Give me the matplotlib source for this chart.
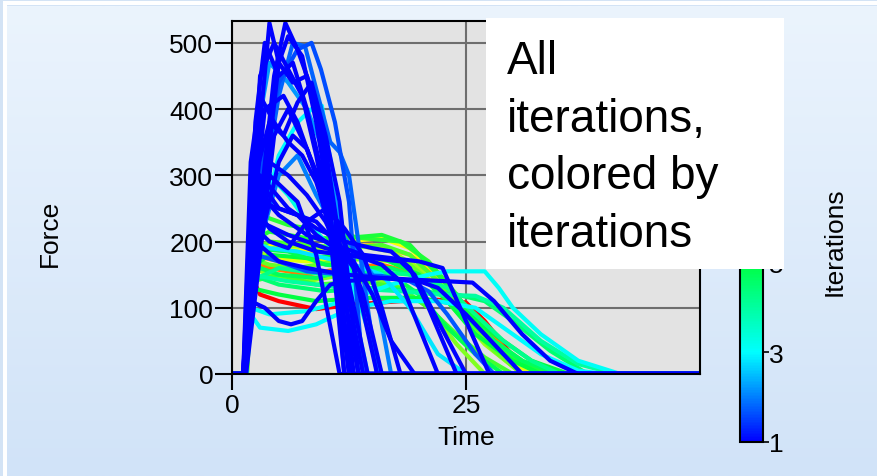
import numpy as np
import matplotlib
matplotlib.use("Agg")
import matplotlib.pyplot as plt
from matplotlib.colors import LinearSegmentedColormap, Normalize
from matplotlib.cm import ScalarMappable
from matplotlib.patches import Rectangle

plt.rcParams['font.family'] = ['Liberation Sans', 'DejaVu Sans']

# one entry per curve: iteration number, time points, force points
iteration = [9, 8, 7.5, 7, 6.8, 6.2, 6, 5.6, 5.2, 5, 5.5, 4.8, 5, 5.3, 5.8, 4.7, 4.5, 4.0, 4.2,
             3.1, 3, 3, 3.3, 2.8, 1.8, 2, 1.7, 2.2, 1.6,
             1, 1, 1, 1, 1, 1, 1, 1, 1, 1, 1, 1, 1, 1, 1, 1, 1, 1, 1, 1, 1]

time = [
    [0, 1.5, 2, 3, 5, 9, 13, 18, 22, 25, 27, 30, 33, 50],
    [0, 1.5, 2, 4, 8, 12, 16, 20, 23, 26, 29, 32, 50],
    [0, 1.5, 2, 5, 10, 15, 19, 21, 24, 27, 30, 33, 50],
    [0, 1.5, 2, 4, 8, 12, 16, 19, 22, 25, 28, 31, 50],
    [0, 1.5, 2, 4, 8, 13, 17, 20, 23, 26, 29, 32, 50],
    [0, 1.5, 2, 5, 9, 13, 17, 20, 23, 27, 31, 50],
    [0, 1.6, 2.2, 4, 8, 12, 15, 18, 21, 24, 27, 50],
    [0, 1.5, 2, 4, 8, 12, 16, 19, 22, 25, 29, 33, 50],
    [0, 1.5, 2, 4, 8, 12, 16, 19, 22, 25, 28, 32, 35, 50],
    [0, 1.5, 2, 4, 8, 12, 16, 20, 23, 26, 30, 33, 50],
    [0, 1.6, 2.2, 5, 9, 14, 18, 21, 24, 27, 30, 50],
    [0, 1.5, 2, 6, 10, 14, 17, 20, 23, 26, 29, 50],
    [0, 1.5, 2, 5, 9, 14, 20, 24, 28, 32, 36, 50],
    [0, 1.5, 2, 3, 6, 10, 14, 18, 21, 24, 27, 31, 34, 50],
    [0, 1.5, 2, 4, 7, 11, 15, 19, 22, 25, 28, 31, 50],
    [0, 1.5, 2, 5, 9, 13, 17, 21, 24, 27, 31, 35, 50],
    [0, 1.5, 2, 5, 10, 15, 20, 24, 27, 30, 34, 38, 50],
    [0, 1.5, 2, 6, 12, 18, 22, 26, 29, 33, 37, 41, 50],
    [0, 1.5, 2, 5, 10, 15, 19, 23, 26, 29, 32, 35, 50],
    [0, 1.5, 2, 4, 8, 12, 17, 21, 23, 27, 28.5, 30, 33, 37, 41.5, 50],
    [0, 1.3, 2, 3, 6, 9, 10.5, 13, 17, 22, 26, 29, 33, 37, 40, 50],
    [0, 1.5, 3, 5, 7, 8.5, 9.6, 10.3, 11.5, 13, 14.5, 50],
    [0, 1.4, 2.5, 4, 6, 8, 10, 12, 14, 16, 50],
    [0, 1.3, 2, 4, 7, 10, 13, 16, 19, 22, 25, 50],
    [0, 1.5, 3, 5, 6.5, 7.8, 9, 10.5, 11.5, 12.5, 14, 15.5, 50],
    [0, 1.4, 3, 5, 7, 9, 11, 13, 15, 17, 50],
    [0, 1.3, 2.5, 5, 8, 12, 16, 19, 21, 23, 26, 28, 50],
    [0, 1.4, 2.5, 4, 6, 8, 10, 12, 13.5, 50],
    [0, 1.3, 3, 5, 7, 8.5, 9.5, 11, 12.5, 14, 50],
    [0, 1.2, 2.5, 4.0, 5.0, 6.0, 7.5, 9.0, 10.5, 12.0, 50],
    [0, 1.3, 3, 4.5, 5.7, 7, 8.5, 10, 11.5, 13, 50],
    [0, 1.4, 3, 5, 6.5, 8, 9.5, 11, 12.5, 50],
    [0, 1.2, 2, 3.5, 5.5, 7, 9, 11, 12.8, 50],
    [0, 1.5, 3, 4.5, 6, 8, 10, 12, 14, 50],
    [0, 1.3, 2.5, 4, 6, 8, 10, 12, 14.5, 50],
    [0, 1.4, 2.2, 3.5, 5, 7, 9, 11, 13, 15.5, 50],
    [0, 1.2, 2, 3, 4.5, 6, 7.5, 9, 11, 13.5, 50],
    [0, 1.3, 2.5, 3.5, 5, 6.5, 8, 10, 12, 50],
    [0, 1.2, 2, 3, 4, 5.5, 7, 9, 11.5, 50],
    [0, 1.2, 2, 3, 4.5, 6, 7.5, 9, 10.5, 12.5, 50],
    [0, 1.3, 2.5, 4, 5.5, 7, 8.5, 10, 11.5, 13.5, 50],
    [0, 1.2, 2, 3.5, 5, 6.5, 8, 10, 12, 14, 16, 50],
    [0, 1.4, 2.5, 4, 6, 8, 10, 12, 14, 16, 18, 50],
    [0, 1.3, 2.5, 4, 6, 9, 12, 15, 18, 19.5, 22, 25, 50],
    [0, 1.3, 2, 3.5, 5, 6.3, 7.5, 9, 10.5, 12, 16, 20, 22, 25, 28, 31, 50],
    [0, 1.3, 2.5, 5, 8, 12, 16, 20, 23, 25.7, 28, 31, 34, 37, 50],
    [0, 1.3, 3, 6, 9, 12, 15, 17, 19, 21, 24, 50],
    [0, 1.3, 3, 6, 10, 14, 16, 18, 20, 22, 50],
    [0, 1.4, 3, 5, 7, 9, 11, 13, 15, 17, 19.5, 50],
    [0, 1.3, 2.5, 5, 8, 11, 14, 17, 20, 22.5, 25, 27.5, 50],
]

force = [
    [0, 0, 150, 120, 110, 98, 105, 110, 112, 108, 80, 27, 0, 0],
    [0, 0, 170, 160, 150, 160, 165, 150, 130, 90, 40, 0, 0],
    [0, 0, 180, 170, 190, 195, 180, 160, 110, 55, 20, 0, 0],
    [0, 0, 200, 195, 185, 200, 205, 190, 150, 90, 35, 0, 0],
    [0, 0, 190, 175, 170, 175, 170, 150, 115, 70, 25, 0, 0],
    [0, 0, 170, 195, 190, 195, 185, 160, 110, 45, 0, 0],
    [0, 0, 160, 150, 140, 150, 145, 130, 100, 45, 0, 0],
    [0, 0, 185, 200, 195, 190, 195, 180, 140, 85, 30, 0, 0],
    [0, 0, 200, 215, 205, 205, 210, 195, 150, 100, 50, 10, 0, 0],
    [0, 0, 160, 180, 175, 180, 175, 150, 110, 60, 20, 0, 0],
    [0, 0, 140, 150, 135, 140, 130, 100, 60, 25, 0, 0],
    [0, 0, 190, 185, 165, 160, 150, 120, 70, 30, 0, 0],
    [0, 0, 130, 120, 110, 115, 115, 105, 60, 20, 0, 0],
    [0, 0, 230, 240, 225, 215, 205, 200, 170, 120, 60, 15, 0, 0],
    [0, 0, 175, 165, 160, 170, 175, 165, 130, 80, 35, 0, 0],
    [0, 0, 165, 150, 145, 160, 160, 140, 100, 60, 20, 0, 0],
    [0, 0, 150, 135, 125, 130, 125, 120, 110, 80, 35, 0, 0],
    [0, 0, 150, 140, 130, 125, 120, 118, 100, 50, 15, 0, 0],
    [0, 0, 140, 160, 150, 155, 150, 130, 90, 50, 20, 0, 0],
    [0, 0, 100, 90, 95, 110, 135, 150, 155, 155, 130, 100, 60, 20, 0, 0],
    [0, 0, 90, 70, 65, 75, 85, 100, 110, 110, 100, 70, 30, 5, 0, 0],
    [0, 0, 220, 330, 380, 400, 405, 340, 250, 100, 0, 0],
    [0, 0, 260, 300, 270, 230, 200, 170, 90, 0, 0],
    [0, 0, 200, 190, 185, 175, 165, 150, 100, 30, 0, 0],
    [0, 0, 250, 420, 500, 495, 430, 350, 335, 300, 150, 0, 0],
    [0, 0, 200, 300, 330, 270, 220, 190, 150, 0, 0],
    [0, 0, 180, 170, 155, 150, 148, 140, 125, 90, 30, 0, 0],
    [0, 0, 350, 470, 440, 400, 330, 200, 0, 0],
    [0, 0, 300, 440, 490, 500, 460, 380, 260, 0, 0],
    [0, 0, 300, 530, 470, 510, 480, 380, 250, 0, 0],
    [0, 0, 250, 450, 530, 490, 430, 340, 200, 0, 0],
    [0, 0, 220, 470, 440, 450, 360, 240, 0, 0],
    [0, 0, 200, 400, 420, 380, 300, 180, 0, 0],
    [0, 0, 180, 360, 400, 340, 260, 150, 0, 0],
    [0, 0, 260, 320, 300, 270, 230, 170, 0, 0],
    [0, 0, 150, 280, 250, 240, 230, 200, 160, 0, 0],
    [0, 0, 320, 420, 380, 350, 330, 290, 200, 0, 0],
    [0, 0, 380, 500, 450, 470, 400, 280, 0, 0],
    [0, 0, 270, 240, 300, 280, 260, 180, 0, 0],
    [0, 0, 200, 450, 500, 460, 420, 330, 220, 0, 0],
    [0, 0, 300, 380, 360, 410, 440, 360, 260, 0, 0],
    [0, 0, 150, 230, 320, 360, 340, 270, 200, 120, 0, 0],
    [0, 0, 220, 200, 190, 230, 250, 220, 180, 100, 0, 0],
    [0, 0, 250, 220, 200, 185, 180, 175, 170, 150, 80, 0, 0],
    [0, 0, 110, 100, 80, 75, 80, 110, 135, 140, 145, 140, 130, 90, 45, 0, 0],
    [0, 0, 200, 170, 160, 150, 145, 142, 140, 138, 110, 60, 20, 0, 0],
    [0, 0, 300, 250, 220, 200, 190, 185, 160, 100, 0, 0],
    [0, 0, 230, 210, 190, 175, 165, 140, 70, 0, 0],
    [0, 0, 260, 250, 240, 210, 190, 170, 120, 50, 0, 0],
    [0, 0, 280, 240, 210, 195, 180, 175, 170, 160, 80, 0, 0],
]

x_ticks = [0, 25]
y_ticks = [0, 100, 200, 300, 400, 500]
cbar_ticks = [1, 3, 5, 7, 9]

W, H = 878, 477
fig = plt.figure(figsize=(W / 100, H / 100), dpi=100)
fig.patch.set_facecolor('#d3e3f5')

# light blue gradient panel with white edge lines
bg = fig.add_axes([0, 0, 1, 1], zorder=-10)
bg.set_xlim(0, W)
bg.set_ylim(H, 0)
bg.axis('off')
bg_cmap = LinearSegmentedColormap.from_list('bg', ['#ebf4fd', '#d1e3f8'])
bg.imshow(np.linspace(0, 1, 256)[:, None], cmap=bg_cmap, aspect='auto',
          extent=(7, W, H, 7))
bg.add_patch(Rectangle((3, 2), W, 4, color='white', lw=0))
bg.add_patch(Rectangle((3, 2), 4, H, color='white', lw=0))

cmap = LinearSegmentedColormap.from_list(
    'iters', [(0, '#0000ff'), (2 / 9, '#00ffff'), (4 / 9, '#00ff40'),
              (6 / 9, '#ffff00'), (8 / 9, '#ff0000'), (1, '#ff0000')])
norm = Normalize(1, 10)

ax = fig.add_axes([232 / W, 1 - 375 / H, 468 / W, 353 / H])
ax.set_facecolor('#e3e3e3')

# high iterations first so blue ends on top
order = np.argsort(iteration, kind='stable')[::-1]
for i in order:
    ax.plot(time[i], force[i], color=cmap(norm(iteration[i])), lw=3.0,
            solid_joinstyle='round')

ax.set_xlim(0, 50)
ax.set_ylim(0, 533)
ax.set_xticks(x_ticks)
ax.set_yticks(y_ticks)
ax.grid(True, color='#6e6e6e', lw=1.5)
ax.set_axisbelow(True)
ax.tick_params(axis='y', length=12, width=1.5, pad=1.5, labelsize=19)
ax.tick_params(axis='x', length=11.5, width=1.5, pad=2, labelsize=19)
for s in ax.spines.values():
    s.set_linewidth(1.5)
ax.set_xlabel('Time', fontsize=19, labelpad=6)
fig.text(50 / W, 1 - 233 / H, 'Force', rotation=90, fontsize=19,
         ha='center', va='center')

cax = fig.add_axes([740 / W, 1 - 443 / H, 23 / W, 403 / H])
cb = fig.colorbar(ScalarMappable(norm=norm, cmap=cmap), cax=cax, ticks=cbar_ticks)
cb.outline.set_linewidth(1.5)
cb.ax.tick_params(length=4, width=1.2, pad=0.5, labelsize=19)
cb.set_label('Iterations', fontsize=19, labelpad=28)

# caption box
fig.add_artist(Rectangle((486 / W, 1 - 270 / H), 298 / W, 251 / H,
                         transform=fig.transFigure, facecolor='white',
                         edgecolor='none', zorder=20))
fig.text(507 / W, 1 - 40 / H, 'All\niterations,\ncolored by\niterations',
         fontsize=33, linespacing=1.4, ha='left', va='top', zorder=21)

fig.savefig('out.png', dpi=100, facecolor=fig.get_facecolor())
